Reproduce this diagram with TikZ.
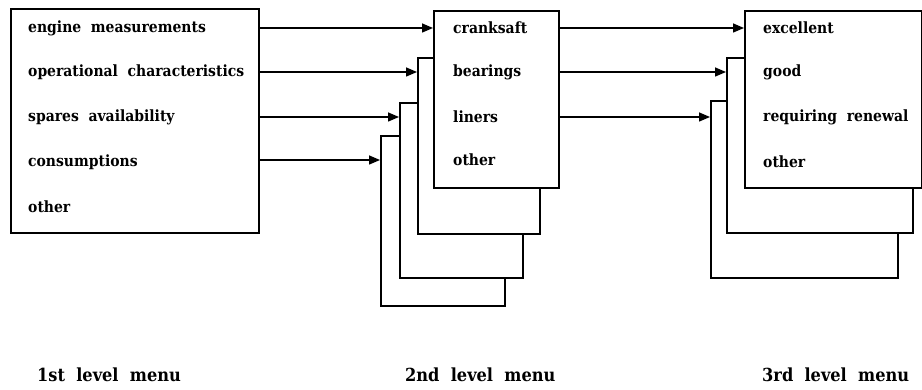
\documentclass[tikz,border=0pt]{standalone}
\usepackage{fontspec}
\setmainfont{DejaVu Serif Condensed}
\usetikzlibrary{arrows.meta}

\begin{document}
\begin{tikzpicture}[x=1pt,y=-1pt,>={Triangle[length=11pt,width=9pt]},
  menubox/.style={draw, line width=1.7pt, fill=white, inner sep=0pt, anchor=north west},
  item/.style={anchor=west, inner sep=0pt, font=\bfseries\fontsize{15.5}{18}\selectfont},
  caption/.style={item, font=\bfseries\fontsize{18}{20}\selectfont},
  link/.style={->, line width=1.5pt}]
\useasboundingbox (0,0) rectangle (922,390);
% 1st level menu
\node[menubox, minimum width=248pt, minimum height=224pt] (m1) at (10,8) {};
\node[item] (e1) at (28,28) {engine\ \ measurements};
\node[item] (e2) at (28,72) {operational\ \ characteristics};
\node[item] (e3) at (28,117) {spares\ \ availability};
\node[item] (e4) at (28,162) {consumptions};
\node[item] (e5) at (28,207) {other};
% 2nd level menu (stack, back to front)
\node[menubox, minimum width=124pt, minimum height=170pt] (m2d) at (380,135) {};
\node[menubox, minimum width=123pt, minimum height=175pt] (m2c) at (399,102) {};
\node[menubox, minimum width=122pt, minimum height=176pt] (m2b) at (417,57) {};
\node[menubox, minimum width=125pt, minimum height=177pt] (m2a) at (433,10) {};
\node[item] (c1) at (453,28) {cranksaft};
\node[item] (c2) at (453,72) {bearings};
\node[item] (c3) at (453,117) {liners};
\node[item] (c4) at (453,160) {other};
% 3rd level menu (stack, back to front)
\node[menubox, minimum width=187pt, minimum height=177pt] (m3c) at (710,100) {};
\node[menubox, minimum width=186pt, minimum height=175pt] (m3b) at (726,57) {};
\node[menubox, minimum width=177pt, minimum height=177pt] (m3a) at (744,10) {};
\node[item] (r1) at (763,28) {excellent};
\node[item] (r2) at (763,72) {good};
\node[item] (r3) at (763,117) {requiring\ \ renewal};
\node[item] (r4) at (763,162) {other};
% connectors
\draw[link] (m1.east |- e1) -- (m2a.west |- c1);
\draw[link] (m1.east |- e2) -- (m2b.west |- c2);
\draw[link] (m1.east |- e3) -- (m2c.west |- c3);
\draw[link] (m1.east |- c4) -- (m2d.west |- c4);
\draw[link] (m2a.east |- c1) -- (m3a.west |- r1);
\draw[link] (m2a.east |- c2) -- (m3b.west |- r2);
\draw[link] (m2a.east |- c3) -- (m3c.west |- r3);
% level captions
\node[caption] (l1) at (37,375) {1st\ \ level\ \ menu};
\node[caption] (l2) at (405,375) {2nd\ \ level\ \ menu};
\node[caption] (l3) at (762,375) {3rd\ \ level\ \ menu};
\end{tikzpicture}
\end{document}
